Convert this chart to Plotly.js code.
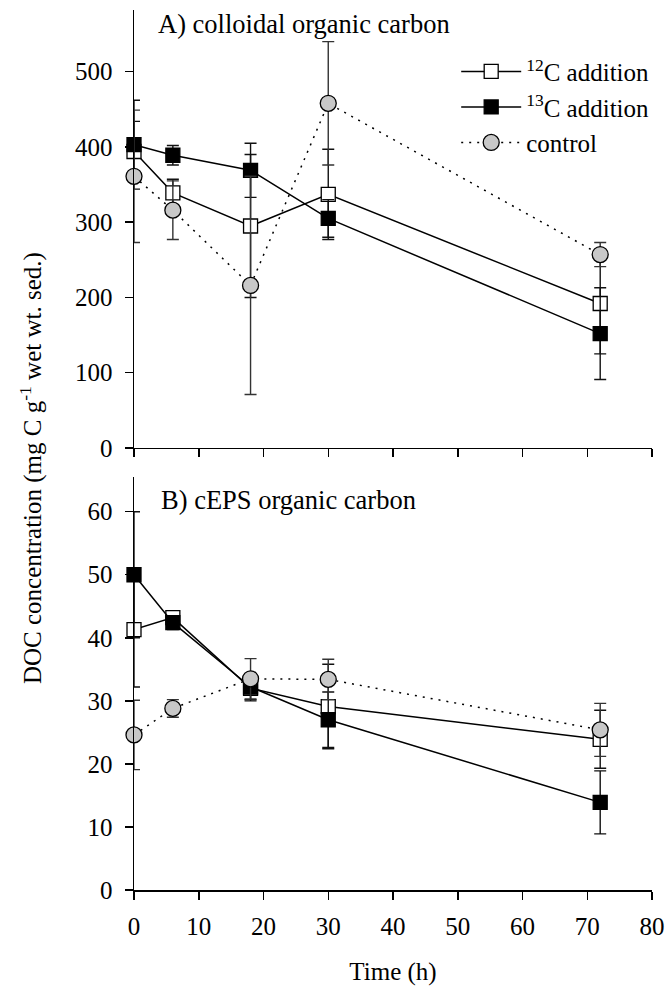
<!DOCTYPE html>
<html>
<head>
<meta charset="utf-8">
<script src="https://cdn.plot.ly/plotly-3.0.1.min.js"></script>
<style>html,body{margin:0;padding:0;background:#fff;}#chart{width:669px;height:990px;}</style>
</head>
<body>
<div id="chart"></div>
<script>
// Sampling times (h)
const times = [0, 6, 18, 30, 72];
const xTicks = [0, 10, 20, 30, 40, 50, 60, 70, 80];

// Panel A: colloidal organic carbon
const c12A = [394, 339, 295, 337, 192];
const c12AErr = [40, 18, 95, 60, 67];
const c13A = [403, 389, 369, 305, 152];
const c13AErr = [59, 13, 36, 25, 61];
const ctlA = [361, 316, 216, 458, 257];
const ctlAErr = [88, 39, 145, 82, 16];

// Panel B: cEPS organic carbon
const c12B = [41.3, 43.2, 32.0, 29.1, 23.9];
const c12BErr = [9.1, 0.9, 2.0, 6.7, 4.6];
const c13B = [50.0, 42.4, 32.2, 27.0, 13.9];
const c13BErr = [10, 1.1, 2.0, 4.4, 5.0];
const ctlB = [24.6, 28.8, 33.5, 33.4, 25.4];
const ctlBErr = [5.5, 1.4, 3.2, 3.2, 4.2];

const seriesNames = ['<sup>12</sup>C addition', '<sup>13</sup>C addition', 'control'];

const FONT = 'Liberation Serif, Times New Roman, serif';

function mk(y, err, idx, xa, ya, showleg) {
  const styles = [
    {symbol: 'square', color: '#ffffff', size: 14, dash: 'solid', ecol: '#111'},
    {symbol: 'square', color: '#000000', size: 14, dash: 'solid', ecol: '#111'},
    {symbol: 'circle', color: '#c8c8c8', size: 16, dash: '2px,6px', ecol: '#333'}
  ];
  const s = styles[idx];
  return {
    x: times, y: y, xaxis: xa, yaxis: ya,
    type: 'scatter', mode: 'lines+markers',
    name: seriesNames[idx], showlegend: showleg, legendgroup: 'g' + idx,
    cliponaxis: false,
    line: {color: '#000', width: 1.5, dash: s.dash},
    marker: {symbol: s.symbol, size: s.size, color: s.color, line: {color: '#000', width: 1.3}},
    error_y: {type: 'data', array: err, visible: true, color: s.ecol, thickness: 1.4, width: 6}
  };
}

const data = [
  mk(c12A, c12AErr, 0, 'x', 'y', true),
  mk(c13A, c13AErr, 1, 'x', 'y', true),
  mk(ctlA, ctlAErr, 2, 'x', 'y', true),
  mk(c12B, c12BErr, 0, 'x2', 'y2', false),
  mk(c13B, c13BErr, 1, 'x2', 'y2', false),
  mk(ctlB, ctlBErr, 2, 'x2', 'y2', false)
];

const axBase = {
  showgrid: false, zeroline: false, showline: true, linecolor: '#000', linewidth: 1.5,
  ticks: 'outside', ticklen: 8, tickwidth: 1.5, tickcolor: '#000',
  tickfont: {family: FONT, size: 25, color: '#000'}
};

const layout = {
  width: 669, height: 990,
  margin: {l: 134, r: 17, t: 10, b: 100},
  paper_bgcolor: '#fff', plot_bgcolor: '#fff',
  font: {family: FONT, size: 25, color: '#000'},
  showlegend: true,
  legend: {x: 0.622, y: 0.956, xanchor: 'left', yanchor: 'top', bgcolor: 'rgba(0,0,0,0)',
           font: {family: FONT, size: 25, color: '#000'}, itemwidth: 60, tracegroupgap: 0},
  xaxis: Object.assign({}, axBase, {domain: [0, 1], range: [0, 80], tickvals: xTicks, showticklabels: false, anchor: 'y'}),
  yaxis: Object.assign({}, axBase, {domain: [0.5023, 1], range: [0, 582], tickvals: [0, 100, 200, 300, 400, 500], anchor: 'x', ticklabelstandoff: 7}),
  xaxis2: Object.assign({}, axBase, {domain: [0, 1], range: [0, 80], tickvals: xTicks, anchor: 'y2', ticklabelstandoff: 5,
           title: {text: 'Time (h)', font: {family: FONT, size: 25, color: '#000'}, standoff: 24}}),
  yaxis2: Object.assign({}, axBase, {domain: [0, 0.4693], range: [0, 65.5], tickvals: [0, 10, 20, 30, 40, 50, 60], anchor: 'x2', ticklabelstandoff: 7}),
  annotations: [
    {text: 'A) colloidal organic carbon', xref: 'paper', yref: 'paper', x: 0.042, y: 1.003, xanchor: 'left', yanchor: 'top', showarrow: false, font: {family: FONT, size: 26.5, color: '#000'}},
    {text: 'B) cEPS organic carbon', xref: 'paper', yref: 'paper', x: 0.048, y: 0.463, xanchor: 'left', yanchor: 'top', showarrow: false, font: {family: FONT, size: 26.5, color: '#000'}},
    {text: 'DOC concentration (mg C g<sup>-1</sup> wet wt. sed.)', xref: 'paper', yref: 'paper', x: -0.198, y: 0.48, xanchor: 'center', yanchor: 'middle', textangle: -90, showarrow: false, font: {family: FONT, size: 25, color: '#000'}}
  ]
};

Plotly.newPlot('chart', data, layout, {staticPlot: true});
</script>
</body>
</html>
